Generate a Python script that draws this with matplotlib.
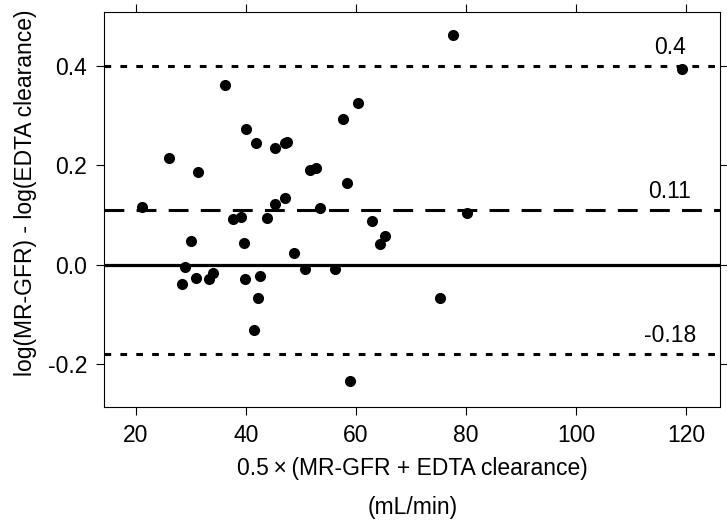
import matplotlib
matplotlib.use("Agg")
import matplotlib.pyplot as plt

plt.rcParams["font.family"] = ["Liberation Sans", "DejaVu Sans"]

# mean of the two measurements (mL/min) and log difference
mean_gfr = [21.1, 26.1, 31.2, 36.1, 40.0, 41.8, 45.2, 47.1, 47.5, 51.6,
            52.7, 57.6, 60.3, 58.3, 47.0, 45.3, 37.7, 39.1, 43.9, 53.5,
            62.9, 65.2, 64.4, 30.1, 39.7, 48.7, 28.9, 28.3, 30.9, 33.3,
            34.1, 39.8, 42.5, 42.2, 41.5, 50.7, 56.1, 58.9, 75.3, 77.6,
            119.3, 80.1]
log_diff = [0.117, 0.214, 0.186, 0.362, 0.273, 0.245, 0.235, 0.246, 0.248, 0.190,
            0.195, 0.294, 0.326, 0.164, 0.135, 0.123, 0.091, 0.096, 0.094, 0.115,
            0.087, 0.058, 0.041, 0.048, 0.044, 0.024, -0.005, -0.040, -0.028, -0.030,
            -0.017, -0.030, -0.023, -0.068, -0.132, -0.010, -0.010, -0.235, -0.068, 0.463,
            0.394, 0.103]

mean_bias = 0.11
upper_loa = 0.4
lower_loa = -0.18
ref_labels = ["0.4", "0.11", "-0.18"]

FS = 16.5

fig = plt.figure(figsize=(7.27, 5.29), dpi=100)
ax = fig.add_axes([0.143, 0.230, 0.848, 0.748])

ax.scatter(mean_gfr, log_diff, s=64, color="black", zorder=3, linewidths=0)

ax.axhline(0, color="black", linewidth=2.3, zorder=2)
ax.axhline(mean_bias, color="black", linewidth=2.2, linestyle=(0, (6.5, 4.0)), zorder=2)
ax.axhline(upper_loa, color="black", linewidth=2.2, linestyle=(0, (2.2, 3.0)), zorder=2)
ax.axhline(lower_loa, color="black", linewidth=2.2, linestyle=(0, (2.2, 3.0)), zorder=2)

for yv, lab in zip([upper_loa, mean_bias, lower_loa], ref_labels):
    ax.annotate(lab, xy=(117, yv), xytext=(0, 5), textcoords="offset points",
                ha="center", va="bottom", fontsize=FS)

ax.set_xlim(14.2, 126.2)
ax.set_ylim(-0.288, 0.51)
ax.set_xticks([20, 40, 60, 80, 100, 120])
ax.set_yticks([-0.2, 0.0, 0.2, 0.4])
ax.set_yticklabels(["-0.2", "0.0", "0.2", "0.4"])

ax.tick_params(direction="out", length=6, width=0.8, labelsize=FS,
               top=True, right=True, pad=6)
for sp in ax.spines.values():
    sp.set_linewidth(0.8)

ax.set_xlabel("0.5\u2009×\u2009(MR-GFR + EDTA clearance)\n(mL/min)", fontsize=FS,
              linespacing=1.9, labelpad=7)
ax.set_ylabel("log(MR-GFR) - log(EDTA clearance)", fontsize=FS)
ax.yaxis.set_label_coords(-0.109, 0.543)

plt.savefig("out.png", dpi=100)
